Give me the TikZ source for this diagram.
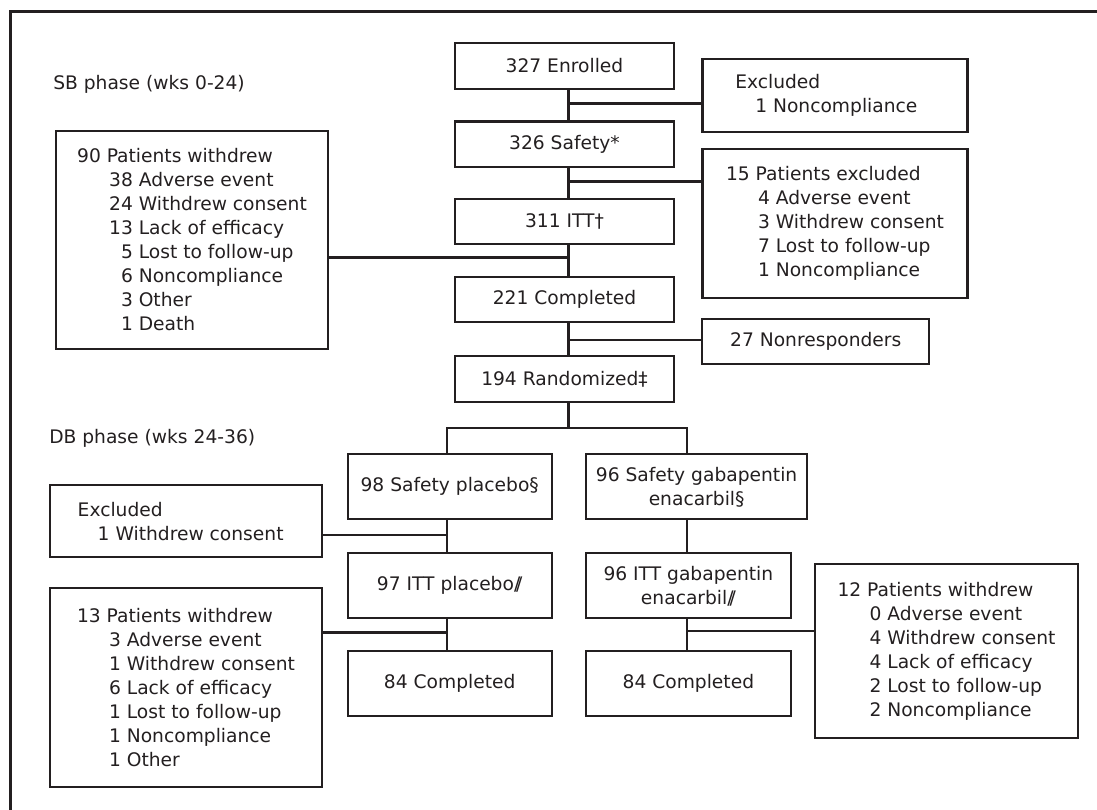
\documentclass[tikz,border=0pt]{standalone}
\usepackage{fontspec}
\setmainfont{DejaVu Sans}
\usetikzlibrary{calc,positioning}

\definecolor{ink}{HTML}{231F20}
\newcommand{\indA}{\hspace*{24pt}}
\newcommand{\indB}{\hspace*{15pt}}
\newcommand{\dbar}{/\kern-.22em/}

\tikzset{
  box/.style={draw=ink, line width=1.6pt, inner sep=0pt, align=center},
  listbox/.style={box, align=left},
  mainbox/.style={box, minimum width=164pt, minimum height=34pt},
  armbox/.style={box, minimum width=153pt, minimum height=48.75pt},
  link/.style={draw=ink, line width=1.9pt},
}

\begin{document}
\begin{tikzpicture}[x=0.75pt, y=-0.75pt, font=\fontsize{14pt}{18pt}\selectfont, text=ink]
    \useasboundingbox (0,0) rectangle (1097,810);
    % frame, cut off on the right and at the bottom
    \draw[ink, line width=2.25pt] (1097,11.5) -- (10.5,11.5) -- (10.5,810);
    % phase labels
    \node[anchor=west, inner sep=0pt] (sbphase) at (53,84) {SB phase (wks 0-24)};
    \node[anchor=west, inner sep=0pt] (dbphase) at (49,438) {DB phase (wks 24-36)};
    % single-blind column
    \node[mainbox] (enrolled) at (564.5,66) {327 Enrolled};
    \node[mainbox] (safety) at (564.5,144.2) {326 Safety*};
    \node[mainbox] (itt) at (564.5,221.7) {311 ITT†};
    \node[mainbox] (completed) at (564.5,299.5) {221 Completed};
    \node[mainbox] (randomized) at (564.5,378.9) {194 Randomized‡};
    % boxes on the side
    \node[listbox, minimum width=198.75pt, minimum height=54.3pt] (exclA) at (835,95.5)
      {Excluded\\ \indB 1 Noncompliance\hspace*{13pt}};
    \node[listbox, minimum width=198.75pt, minimum height=112pt] (exclB) at (835,223.7)
      {15 Patients excluded\\
       \indA 4 Adverse event\\
       \indA 3 Withdrew consent\hspace*{8pt}\\
       \indA 7 Lost to follow-up\\
       \indA 1 Noncompliance};
    \node[listbox, minimum width=204pt, minimum height=163.5pt] (withdrewA) at (192,240)
      {90 Patients withdrew\\
       \indA 38 Adverse event\\
       \indA 24 Withdrew consent\\
       \indA 13 Lack of efficacy\\
       \indA\phantom{0}5 Lost to follow-up\\
       \indA\phantom{0}6 Noncompliance\\
       \indA\phantom{0}3 Other\\
       \indA\phantom{0}1 Death};
    \node[box, minimum width=170pt, minimum height=34pt] (nonresp) at (815.75,341.7) {27 Nonresponders};
    % double-blind arms
    \node[armbox] (safetyP) at (449.7,486.8) {98 Safety placebo§};
    \node[armbox, minimum width=165.3pt] (safetyG) at (696.6,486.8) {96 Safety gabapentin\\enacarbil§};
    \node[armbox] (ittP) at (449.7,585.8) {97 ITT placebo\dbar};
    \node[armbox, minimum width=154pt] (ittG) at (688.4,585.8) {96 ITT gabapentin\\enacarbil\dbar};
    \node[armbox] (complP) at (449.7,683.2) {84 Completed};
    \node[armbox, minimum width=154pt] (complG) at (688.4,683.2) {84 Completed};
    \node[listbox, minimum width=204pt, minimum height=54.2pt] (exclC) at (186,521.2)
      {Excluded\\ \indB 1 Withdrew consent\hspace*{8pt}};
    \node[listbox, minimum width=204pt, minimum height=148.8pt] (withdrewB) at (186,687.5)
      {13 Patients withdrew\\
       \indA 3 Adverse event\\
       \indA 1 Withdrew consent\\
       \indA 6 Lack of efficacy\\
       \indA 1 Lost to follow-up\\
       \indA 1 Noncompliance\\
       \indA 1 Other};
    \node[listbox, minimum width=197.25pt, minimum height=130.5pt] (withdrewC) at (946.5,651.3)
      {12 Patients withdrew\\
       \indA 0 Adverse event\\
       \indA 4 Withdrew consent\\
       \indA 4 Lack of efficacy\\
       \indA 2 Lost to follow-up\\
       \indA 2 Noncompliance};
    % trunk (a little right of the box centres) and side branches
    \draw[link] ([xshift=3pt]enrolled.south) -- ([xshift=3pt]safety.north);
    \draw[link] ([xshift=3pt]safety.south) -- ([xshift=3pt]itt.north);
    \draw[link] ([xshift=3pt]itt.south) -- ([xshift=3pt]completed.north);
    \draw[link] ([xshift=3pt]completed.south) -- ([xshift=3pt]randomized.north);
    \coordinate (j1) at ($([xshift=3pt]enrolled.south)!.44!([xshift=3pt]safety.north)$);
    \coordinate (j2) at ($([xshift=3pt]safety.south)!.46!([xshift=3pt]itt.north)$);
    \coordinate (j3) at ($([xshift=3pt]itt.south)!.4!([xshift=3pt]completed.north)$);
    \coordinate (j4) at ($([xshift=3pt]completed.south)!.53!([xshift=3pt]randomized.north)$);
    \draw[link] (j1) -- (j1 -| exclA.west);
    \draw[link] (j2) -- (j2 -| exclB.west);
    \draw[link] (j3 -| withdrewA.east) -- (j3);
    \draw[link] (j4) -- (j4 -| nonresp.west);
    % split into the two arms
    \coordinate (split) at ($([xshift=3pt]randomized.south)!.5!([xshift=3pt]randomized.south |- safetyP.north)$);
    \draw[link] ([xshift=3pt]randomized.south) -- (split);
    \draw[link] ([xshift=-2pt]safetyP.north) |- (split) -| ([xshift=-1pt]ittG.north |- safetyG.north);
    \draw[link] ([xshift=-2pt]safetyP.south) -- ([xshift=-2pt]ittP.north);
    \draw[link] ([xshift=-2pt]ittP.south) -- ([xshift=-2pt]complP.north);
    \draw[link] ([xshift=-1pt]ittG.north |- safetyG.south) -- ([xshift=-1pt]ittG.north);
    \draw[link] ([xshift=-1pt]ittG.south) -- ([xshift=-1pt]complG.north);
    \coordinate (j5) at ($([xshift=-2pt]safetyP.south)!.46!([xshift=-2pt]ittP.north)$);
    \coordinate (j6) at ($([xshift=-2pt]ittP.south)!.44!([xshift=-2pt]complP.north)$);
    \coordinate (j7) at ($([xshift=-1pt]ittG.south)!.39!([xshift=-1pt]complG.north)$);
    \draw[link] (j5 -| exclC.east) -- (j5);
    \draw[link] (j6 -| withdrewB.east) -- (j6);
    \draw[link] (j7) -- (j7 -| withdrewC.west);
\end{tikzpicture}
\end{document}
